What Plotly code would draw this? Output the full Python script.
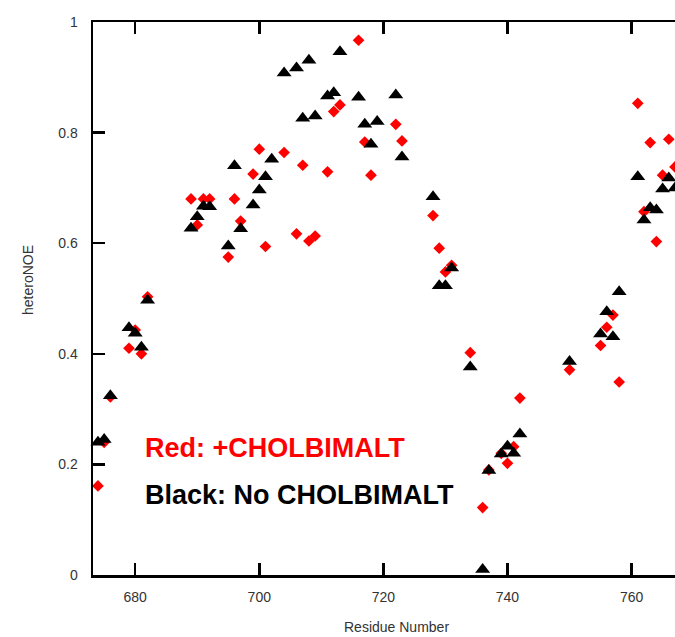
import plotly.graph_objects as go

# Red: +CHOLBIMALT
red_res = [674, 675, 676, 679, 680, 681, 682, 689, 690, 691, 692, 695, 696, 697,
           699, 700, 701, 704, 706, 707, 708, 709, 711, 712, 713, 716, 717, 718,
           722, 723, 728, 729, 730, 731, 734, 736, 737, 739, 740, 741, 742, 750,
           755, 756, 757, 758, 761, 762, 763, 764, 765, 766, 767]
red_noe = [0.161, 0.24, 0.322, 0.41, 0.443, 0.40, 0.503, 0.68, 0.633, 0.68, 0.68,
           0.575, 0.68, 0.64, 0.725, 0.77, 0.594, 0.764, 0.617, 0.741, 0.604, 0.613,
           0.729, 0.838, 0.85, 0.967, 0.783, 0.723, 0.815, 0.785, 0.65, 0.591, 0.548,
           0.56, 0.402, 0.122, 0.19, 0.22, 0.202, 0.232, 0.32, 0.371, 0.415, 0.448,
           0.47, 0.349, 0.853, 0.657, 0.782, 0.603, 0.723, 0.788, 0.738]

# Black: No CHOLBIMALT
black_res = [674, 675, 676, 679, 680, 681, 682, 689, 690, 691, 692, 695, 696, 697,
             699, 700, 701, 702, 704, 706, 707, 708, 709, 711, 712, 713, 716, 717,
             718, 719, 722, 723, 728, 729, 730, 731, 734, 736, 737, 739, 740, 741,
             742, 750, 755, 756, 757, 758, 761, 762, 763, 764, 765, 766, 767]
black_noe = [0.24, 0.245, 0.324, 0.447, 0.437, 0.412, 0.497, 0.627, 0.648, 0.667,
             0.666, 0.595, 0.74, 0.626, 0.669, 0.696, 0.72, 0.752, 0.908, 0.917,
             0.826, 0.931, 0.830, 0.866, 0.872, 0.946, 0.864, 0.815, 0.779, 0.82,
             0.868, 0.756, 0.684, 0.523, 0.523, 0.555, 0.376, 0.01, 0.189, 0.219,
             0.233, 0.22, 0.255, 0.386, 0.436, 0.476, 0.431, 0.512, 0.72, 0.642,
             0.664, 0.66, 0.698, 0.718, 0.70]

x_ticks = [680, 700, 720, 740, 760]
y_ticks = [0, 0.2, 0.4, 0.6, 0.8, 1]
y_tick_text = ["0", "0.2", "0.4", "0.6", "0.8", "1"]

FONT = "Liberation Sans, Arial, Helvetica, sans-serif"

fig = go.Figure()
fig.add_trace(go.Scatter(x=red_res, y=red_noe, mode="markers", cliponaxis=False,
                         marker=dict(symbol="diamond", size=9, color="#ff0000",
                                     line=dict(width=0)),
                         name="+CHOLBIMALT"))
fig.add_trace(go.Scatter(x=black_res, y=black_noe, mode="markers", cliponaxis=False,
                         marker=dict(symbol="triangle-up", size=13, color="#000000",
                                     line=dict(width=0)),
                         name="No CHOLBIMALT"))

axis_common = dict(showline=True, linecolor="black", linewidth=2.5,
                   ticks="inside", ticklen=12, tickwidth=2.5, tickcolor="black",
                   showgrid=False, zeroline=False,
                   tickfont=dict(family=FONT, size=14, color="#333333"))

fig.update_xaxes(range=[673.2, 767.0], tickvals=x_ticks, mirror="ticks",
                 ticklabelstandoff=8, **axis_common)
fig.update_yaxes(range=[0, 1], tickvals=y_ticks, ticktext=y_tick_text, mirror=False,
                 ticklabelstandoff=10, **axis_common)

def px(xp):
    return (xp - 93) / 582.0

def py(yp):
    return (575 - yp) / 553.0

fig.update_layout(
    width=675, height=637,
    margin=dict(l=93, r=0, t=22, b=62),
    plot_bgcolor="white", paper_bgcolor="white",
    showlegend=False,
    annotations=[
        dict(text="<b>Red: +CHOLBIMALT</b>", xref="paper", yref="paper",
             x=px(143), y=py(448), xanchor="left", yanchor="middle", showarrow=False,
             font=dict(family=FONT, size=27, color="#ff0000")),
        dict(text="<b>Black: No CHOLBIMALT</b>", xref="paper", yref="paper",
             x=px(143), y=py(495), xanchor="left", yanchor="middle", showarrow=False,
             font=dict(family=FONT, size=27, color="#000000")),
        dict(text="Residue Number", xref="paper", yref="paper",
             x=px(396), y=py(627), xanchor="center", yanchor="middle", showarrow=False,
             font=dict(family=FONT, size=14, color="#333333")),
        dict(text="heteroNOE", xref="paper", yref="paper", textangle=-90,
             x=px(28), y=py(280), xanchor="center", yanchor="middle", showarrow=False,
             font=dict(family=FONT, size=14, color="#333333")),
    ],
)

fig.write_html(
    "out.html",
    config={"displayModeBar": False, "staticPlot": True},
    post_script="document.body.style.margin='0';document.body.style.padding='0';"
                "document.documentElement.style.overflow='hidden';",
)
